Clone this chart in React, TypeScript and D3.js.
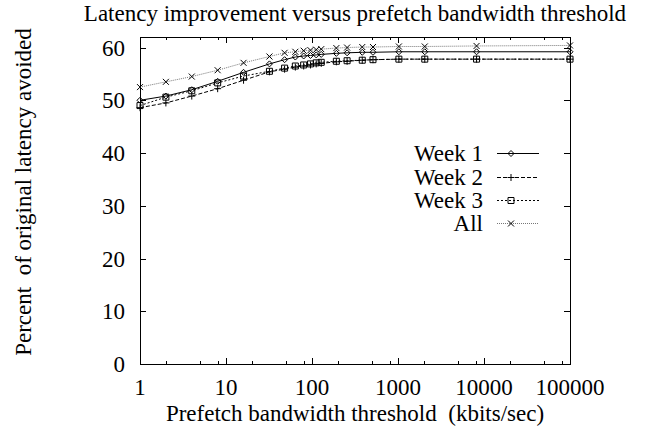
import React, { useEffect, useRef } from 'react';
import * as d3 from 'd3';

// bandwidth thresholds (kbits/sec) where the runs were measured
const thresholds = [1, 2, 4, 8, 16, 32, 48, 64, 80, 96, 112, 128, 192, 256, 384, 512, 1024, 2048, 8192, 100000];

const week1 = [50.0, 50.8, 52.0, 53.6, 55.3, 56.9, 57.7, 58.2, 58.4, 58.5, 58.6, 58.7, 58.9, 59.0, 59.1, 59.1, 59.2, 59.2, 59.2, 59.2];
const week2 = [48.6, 49.5, 50.8, 52.2, 53.8, 55.4, 55.9, 56.3, 56.5, 56.7, 56.9, 57.0, 57.3, 57.4, 57.6, 57.7, 57.8, 57.8, 57.8, 57.8];
const week3 = [49.0, 50.6, 51.8, 53.3, 54.6, 55.5, 56.1, 56.5, 56.7, 56.9, 57.1, 57.2, 57.4, 57.5, 57.6, 57.7, 57.8, 57.8, 57.8, 57.8];
const allWeeks = [52.5, 53.5, 54.5, 55.7, 57.1, 58.3, 59.0, 59.2, 59.4, 59.5, 59.6, 59.7, 59.9, 60.0, 60.1, 60.1, 60.2, 60.2, 60.3, 60.4];

const seriesNames = ['Week 1', 'Week 2', 'Week 3', 'All'];
const xTickValues = [1, 10, 100, 1000, 10000, 100000];
const yTickValues = [0, 10, 20, 30, 40, 50, 60];

const FONT = '"Liberation Serif", "Times New Roman", Times, serif';

const App = () => {
  const ref = useRef<SVGSVGElement>(null);

  useEffect(() => {
    const svg = d3.select(ref.current);
    svg.selectAll('*').remove();

    const left = 140, right = 570, top = 37, bottom = 364;

    const x = d3.scaleLog().domain([1, 100000]).range([left, right]);
    const y = d3.scaleLinear().domain([0, 62]).range([bottom, top]);

    // minor ticks at 2, 5, 8 of each decade
    const minorX: number[] = [];
    for (let k = 0; k < 5; k++) [2, 5, 8].forEach(m => minorX.push(m * Math.pow(10, k)));

    const g = svg.append('g');

    // ticks, inward on all four sides
    const tickG = g.append('g').attr('stroke', '#000').attr('stroke-width', 1);
    xTickValues.forEach(v => {
      const px = Math.round(x(v)) + 0.5;
      tickG.append('line').attr('x1', px).attr('x2', px).attr('y1', bottom).attr('y2', bottom - 6);
      tickG.append('line').attr('x1', px).attr('x2', px).attr('y1', top).attr('y2', top + 6);
    });
    minorX.forEach(v => {
      const px = Math.round(x(v)) + 0.5;
      tickG.append('line').attr('x1', px).attr('x2', px).attr('y1', bottom).attr('y2', bottom - 3);
      tickG.append('line').attr('x1', px).attr('x2', px).attr('y1', top).attr('y2', top + 3);
    });
    yTickValues.forEach(v => {
      const py = Math.round(y(v)) + 0.5;
      tickG.append('line').attr('x1', left).attr('x2', left + 6).attr('y1', py).attr('y2', py);
      tickG.append('line').attr('x1', right).attr('x2', right - 6).attr('y1', py).attr('y2', py);
    });

    // tick labels
    g.selectAll('.xl')
      .data(xTickValues)
      .enter()
      .append('text')
        .attr('x', d => x(d))
        .attr('y', 395)
        .attr('text-anchor', 'middle')
        .text(d => String(d));

    g.selectAll('.yl')
      .data(yTickValues)
      .enter()
      .append('text')
        .attr('x', 125)
        .attr('y', d => y(d))
        .attr('dy', '0.35em')
        .attr('text-anchor', 'end')
        .text(d => String(d));

    const styles = [
      { dash: null, color: '#000', marker: 'diamond' },
      { dash: '4,2', color: '#000', marker: 'plus' },
      { dash: '2,2', color: '#000', marker: 'square' },
      { dash: '1,1', color: '#777', marker: 'cross' },
    ];
    const values = [week1, week2, week3, allWeeks];

    const drawMarker = (sel: any, kind: string, cx: number, cy: number) => {
      const m = sel.append('path').attr('fill', 'none').attr('stroke', '#000').attr('stroke-width', 1);
      if (kind === 'diamond') m.attr('d', `M${cx},${cy - 3}L${cx + 3},${cy}L${cx},${cy + 3}L${cx - 3},${cy}Z`);
      if (kind === 'plus') m.attr('d', `M${cx - 3.5},${cy}H${cx + 3.5}M${cx},${cy - 3.5}V${cy + 3.5}`);
      if (kind === 'square') m.attr('d', `M${cx - 3},${cy - 3}h6v6h-6Z`);
      if (kind === 'cross') m.attr('d', `M${cx - 3},${cy - 3}L${cx + 3},${cy + 3}M${cx - 3},${cy + 3}L${cx + 3},${cy - 3}`);
    };

    const line = d3.line<number>()
      .x((_, i) => x(thresholds[i]))
      .y(d => y(d));

    // draw "All" first so the week lines sit on top
    [3, 2, 1, 0].forEach(s => {
      const st = styles[s];
      const sg = g.append('g');
      sg.append('path')
        .attr('d', line(values[s]))
        .attr('fill', 'none')
        .attr('stroke', st.color)
        .attr('stroke-width', 1)
        .attr('stroke-dasharray', st.dash);
      values[s].forEach((v, i) => drawMarker(sg, st.marker, x(thresholds[i]), y(v)));
    });

    // frame
    g.append('rect')
      .attr('x', left + 0.5).attr('y', top + 0.5)
      .attr('width', right - left).attr('height', bottom - top)
      .attr('fill', 'none').attr('stroke', '#000').attr('stroke-width', 1);

    // legend
    const legY = [153, 177, 200, 223];
    seriesNames.forEach((name, s) => {
      const st = styles[s];
      const ly = legY[s] + 0.5;
      g.append('text')
        .attr('x', 483).attr('y', legY[s]).attr('dy', '0.33em')
        .attr('text-anchor', 'end')
        .text(name);
      g.append('line')
        .attr('x1', 497).attr('x2', 539).attr('y1', ly).attr('y2', ly)
        .attr('stroke', st.color).attr('stroke-width', 1)
        .attr('stroke-dasharray', st.dash);
      drawMarker(g, st.marker, 511, ly);
    });

    // title and axis labels, centred over the plot
    const midX = (left + right) / 2;
    g.append('text')
      .attr('x', midX).attr('y', 21)
      .attr('text-anchor', 'middle')
      .text('Latency improvement versus prefetch bandwidth threshold');

    g.append('text')
      .attr('x', midX).attr('y', 421)
      .attr('text-anchor', 'middle')
      .style('white-space', 'pre')
      .text('Prefetch bandwidth threshold  (kbits/sec)');

    g.append('text')
      .attr('transform', `translate(31,192) rotate(-90)`)
      .attr('text-anchor', 'middle')
      .style('white-space', 'pre')
      .text('Percent  of original latency avoided');
  }, []);

  return (
    <div style={{ position: 'absolute', left: 0, top: 0 }}>
      <svg
        ref={ref}
        width={651}
        height={427}
        style={{ display: 'block', background: '#fff', fontFamily: FONT, fontSize: 23 }}
      />
    </div>
  );
};

export default App;
